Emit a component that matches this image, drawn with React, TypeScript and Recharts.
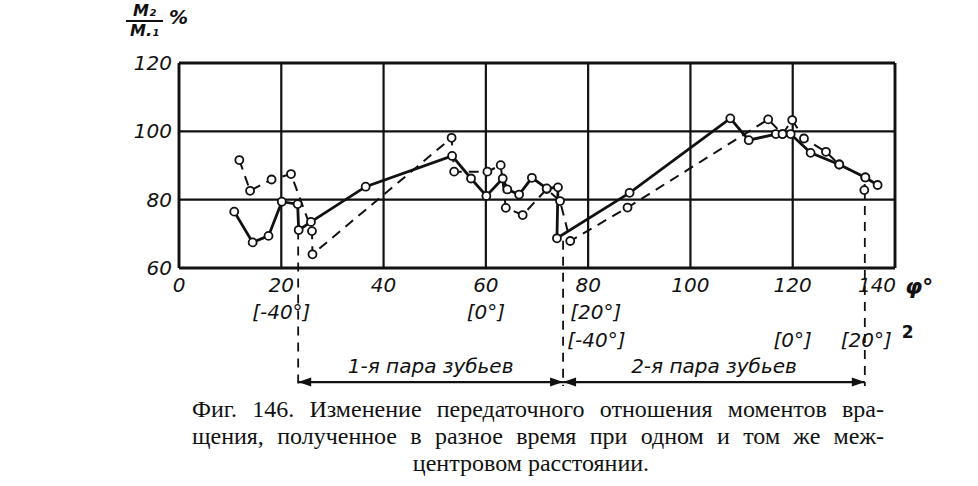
import React from "react";
import { LineChart, Line, XAxis, YAxis, CartesianGrid, ReferenceLine, ReferenceDot } from "recharts";

// axis ticks
const phiTicks = [0, 20, 40, 60, 80, 100, 120, 140];
const ratioTicks = [60, 80, 100, 120];

// bracketed angle labels under the phi axis (first and second tooth pair)
const firstPairPhi = [20, 60, 81.5];
const firstPairLabels = ["[-40°]", "[0°]", "[20°]"];
const secondPairPhi = [81.6, 120, 136.5];
const secondPairLabels = ["[-40°]", "[0°]", "[20°]"];

// solid curve: M2/M1 in % vs phi, deg
const solidPhi = [10.8, 14.4, 17.5, 20.1, 23.2, 23.4, 25.8, 36.5, 53.4, 57.1, 60.1, 63.3, 64.2, 66.5, 69.0, 71.9, 74.1, 73.9, 88.1, 107.8, 111.4, 116.7, 118.0, 119.6, 123.5, 129.1, 134.2, 136.6];
const solidRatio = [76.5, 67.5, 69.4, 79.4, 78.7, 71.1, 73.5, 83.8, 92.8, 86.2, 81.1, 86.2, 83.0, 81.5, 86.4, 83.3, 83.6, 68.7, 82.0, 103.8, 97.4, 99.2, 99.2, 99.2, 93.7, 90.3, 86.5, 84.3];

// dashed curve: second measurement
const dashedPhi = [11.8, 13.9, 18.1, 21.9, 26.0, 26.1, 53.3, 53.8, 60.3, 62.9, 63.9, 67.2, 71.9, 74.5, 76.5, 87.7, 115.2, 118.0, 119.9, 122.2, 126.5, 129.1, 134.2, 134.0];
const dashedRatio = [91.6, 82.6, 85.9, 87.5, 70.8, 64.0, 98.1, 88.2, 88.2, 90.1, 77.6, 75.5, 83.1, 79.6, 67.9, 77.7, 103.5, 99.2, 103.3, 97.9, 94.0, 90.3, 86.5, 82.8];

// tooth pair boundaries (phi) and where the boundary line leaves the curve
const pairBounds = [23.3, 75.1, 134.1];
const boundStart = [71, 68, 82.8];
const pairNames = ["1-я пара зубьев", "2-я пара зубьев"];

// rows below the axis, in the y scale (below the 60 % floor)
const ROW1_Y = 47.1;
const ROW2_Y = 38.9;
const BOUND_END = 25.5;
const ARROW_Y = 26.6;

const solidPoints = solidPhi.map((phi, i) => ({ phi, ratio: solidRatio[i] }));
const dashedPoints = dashedPhi.map((phi, i) => ({ phi, ratio: dashedRatio[i] }));

const INK = "#111";
const tickFont: React.CSSProperties = {
    fontFamily: "'DejaVu Sans', sans-serif",
    fontStyle: "italic",
    fontSize: 20,
    fill: INK,
};

function PhiTick({ x, y, payload }: any) {
    // the 140 label sits left of the frame edge in the original
    const shift = payload.value === 140 ? -18 : 0;
    return (
        <text x={x + shift} y={y} dy="0.71em" textAnchor="middle" style={tickFont}>
            {payload.value}
        </text>
    );
}

function angleText(label: string, sup?: string) {
    return ({ cx, cy }: any) => (
        <text x={cx} y={cy} dy="0.36em" textAnchor="middle" style={tickFont}>
            {label}
            {sup && (
                <tspan dx={10} dy={-9} fontWeight="bold" fontStyle="normal" fontSize={17}>
                    {sup}
                </tspan>
            )}
        </text>
    );
}

function Arrow({ x1, y1, x2, y2 }: any) {
    const h = 13;
    const w = 4.5;
    return (
        <g>
            <line x1={x1} y1={y1} x2={x2} y2={y2} stroke={INK} strokeWidth={2.4} />
            <polygon points={`${x1},${y1} ${x1 + h},${y1 - w} ${x1 + h},${y1 + w}`} fill={INK} />
            <polygon points={`${x2},${y2} ${x2 - h},${y2 - w} ${x2 - h},${y2 + w}`} fill={INK} />
        </g>
    );
}

const dot = { r: 4, fill: "#fff", stroke: INK, strokeWidth: 1.8, strokeDasharray: "0" };

export default function App() {
    return (
        <div style={{ position: "relative", width: 978, height: 486, background: "#fff" }}>
            <style>{"body{margin:0;background:#fff}"}</style>

            <div
                style={{
                    position: "absolute",
                    left: 126,
                    top: 2,
                    fontFamily: "'DejaVu Sans', sans-serif",
                    fontStyle: "italic",
                    fontWeight: "bold",
                    color: INK,
                    display: "flex",
                    alignItems: "center",
                }}
            >
                <div style={{ display: "inline-flex", flexDirection: "column", alignItems: "center", fontSize: 16, lineHeight: "18px" }}>
                    <span style={{ padding: "0 4px" }}>M₂</span>
                    <span style={{ borderTop: `2px solid ${INK}`, padding: "0 4px" }}>M.₁</span>
                </div>
                <span style={{ fontSize: 19, marginLeft: 6, marginTop: -8 }}>%</span>
            </div>

            <LineChart width={978} height={486} margin={{ top: 63, right: 83, bottom: 181, left: 119 }}>
                <CartesianGrid stroke={INK} strokeWidth={2.2} />
                <XAxis
                    dataKey="phi"
                    type="number"
                    domain={[0, 140]}
                    ticks={phiTicks}
                    interval={0}
                    height={37}
                    tickSize={0}
                    tickMargin={9.5}
                    tick={<PhiTick />}
                    axisLine={{ stroke: INK, strokeWidth: 2.8 }}
                    label={{
                        value: "φ°",
                        position: "right",
                        offset: 10,
                        style: { fontFamily: "'DejaVu Sans', sans-serif", fontStyle: "italic", fontWeight: "bold", fontSize: 22, fill: INK },
                    }}
                />
                <YAxis
                    type="number"
                    domain={[60, 120]}
                    ticks={ratioTicks}
                    interval={0}
                    width={60}
                    tickSize={0}
                    tickMargin={7}
                    tick={tickFont}
                    axisLine={{ stroke: INK, strokeWidth: 2.8 }}
                />

                <ReferenceLine y={120} stroke={INK} strokeWidth={2.8} />
                <ReferenceLine x={140} stroke={INK} strokeWidth={2.8} />

                {pairBounds.map((b, i) => (
                    <ReferenceLine
                        key={"b" + i}
                        segment={[{ x: b, y: boundStart[i] }, { x: b, y: BOUND_END }]}
                        stroke={INK}
                        strokeWidth={1.8}
                        strokeDasharray="9 7"
                        ifOverflow="visible"
                    />
                ))}
                {pairNames.map((name, i) => (
                    <ReferenceLine
                        key={"p" + i}
                        segment={[{ x: pairBounds[i], y: ARROW_Y }, { x: pairBounds[i + 1], y: ARROW_Y }]}
                        ifOverflow="visible"
                        shape={<Arrow />}
                        label={{ value: name, position: "top", offset: 9, style: tickFont }}
                    />
                ))}
                {firstPairPhi.map((p, i) => (
                    <ReferenceDot key={"a" + i} x={p} y={ROW1_Y} r={0} ifOverflow="visible" shape={angleText(firstPairLabels[i])} />
                ))}
                {secondPairPhi.map((p, i) => (
                    <ReferenceDot
                        key={"c" + i}
                        x={p}
                        y={ROW2_Y}
                        r={0}
                        ifOverflow="visible"
                        shape={angleText(secondPairLabels[i], i === secondPairPhi.length - 1 ? "2" : undefined)}
                    />
                ))}

                <Line
                    data={dashedPoints}
                    dataKey="ratio"
                    type="linear"
                    stroke={INK}
                    strokeWidth={2}
                    strokeDasharray="10 7"
                    dot={dot}
                    isAnimationActive={false}
                />
                <Line
                    data={solidPoints}
                    dataKey="ratio"
                    type="linear"
                    stroke={INK}
                    strokeWidth={2.8}
                    dot={dot}
                    isAnimationActive={false}
                />
            </LineChart>

            <div
                style={{
                    position: "absolute",
                    left: 192,
                    top: 396,
                    width: 692,
                    fontFamily: "'Liberation Serif', 'DejaVu Serif', serif",
                    fontSize: 24,
                    lineHeight: "27px",
                    color: INK,
                }}
            >
                <div style={{ textAlign: "justify", textAlignLast: "justify" }}>
                    Фиг. 146. Изменение передаточного отношения моментов вра-
                </div>
                <div style={{ textAlign: "justify", textAlignLast: "justify" }}>
                    щения, полученное в разное время при одном и том же меж-
                </div>
                <div style={{ textAlign: "center", marginLeft: -14 }}>центровом расстоянии.</div>
            </div>
        </div>
    );
}
